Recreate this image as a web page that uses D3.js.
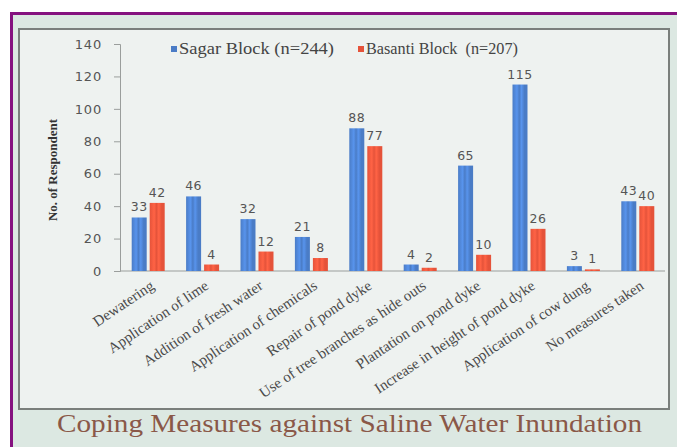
<!DOCTYPE html>
<html>
<head>
<meta charset="utf-8">
<script src="https://cdn.jsdelivr.net/npm/d3@7"></script>
<style>
  html, body { margin: 0; padding: 0; background: #ffffff; }
  svg { display: block; }
</style>
</head>
<body>
<svg id="chart" width="677" height="447"></svg>
<script>
const categories = [
  "Dewatering",
  "Application of lime",
  "Addition of fresh water",
  "Application of chemicals",
  "Repair of pond dyke",
  "Use of tree branches as hide outs",
  "Plantation on pond dyke",
  "Increase in height of pond dyke",
  "Application of cow dung",
  "No measures taken"
];
const seriesNames = ["Sagar Block (n=244)", "Basanti Block  (n=207)"];
const sagar = [33, 46, 32, 21, 88, 4, 65, 115, 3, 43];
const basanti = [42, 4, 12, 8, 77, 2, 10, 26, 1, 40];
const yTicks = [0, 20, 40, 60, 80, 100, 120, 140];
const colors = ["#4a7cc6", "#e5533a"];
const yTitle = "No. of Respondent";
const caption = "Coping Measures against Saline Water Inundation";

const svg = d3.select("#chart");

const defs = svg.append("defs");
function stripeGrad(id, base) {
  const c = d3.color(base);
  const light = c.brighter(0.5).formatHex();
  const g = defs.append("linearGradient").attr("id", id)
    .attr("x1", "0%").attr("x2", "100%").attr("y1", "0%").attr("y2", "0%");
  [[0, base], [0.3, light], [0.45, base], [0.6, light], [0.8, base], [1, base]].forEach(([o, col]) => {
    g.append("stop").attr("offset", o).attr("stop-color", col);
  });
}
stripeGrad("g0", colors[0]);
stripeGrad("g1", colors[1]);

// page background
svg.append("rect").attr("x", 10).attr("y", 12).attr("width", 667).attr("height", 435).attr("fill", "#dce8e2");
// purple frame
svg.append("rect").attr("x", 10).attr("y", 12).attr("width", 667).attr("height", 3).attr("fill", "#85127f");
svg.append("rect").attr("x", 10).attr("y", 12).attr("width", 3).attr("height", 435).attr("fill", "#85127f");
// inner chart box
svg.append("rect").attr("x", 19).attr("y", 29).attr("width", 650).attr("height", 380)
  .attr("fill", "#eef2f0").attr("stroke", "#7a7f7c").attr("stroke-width", 2);

const x0 = d3.scaleBand().domain(categories).range([121, 665]).paddingInner(0).paddingOuter(0);
const y = d3.scaleLinear().domain([0, 140]).range([271, 44]);
const barW = 15, gap = 3;

// y axis
const yAxis = d3.axisLeft(y).tickValues(yTicks).tickSize(6).tickPadding(12);
const yg = svg.append("g").attr("transform", "translate(120,0)").call(yAxis);
yg.select(".domain").attr("stroke", "#9a9e9c").attr("stroke-width", 1);
yg.selectAll(".tick line").attr("stroke", "#9a9e9c");
yg.selectAll(".tick text").attr("fill", "#555").attr("font-family", "DejaVu Sans, sans-serif")
  .attr("font-size", 13).attr("letter-spacing", 0.8);

// x axis baseline
svg.append("line").attr("x1", 120).attr("x2", 665).attr("y1", y(0)).attr("y2", y(0))
  .attr("stroke", "#9a9e9c").attr("stroke-width", 1);

// bars
const seriesVals = [sagar, basanti];
seriesVals.forEach((vals, si) => {
  const g = svg.append("g");
  const off = si === 0 ? -(barW + gap) / 2 : (barW + gap) / 2;
  g.selectAll("rect").data(vals).join("rect")
    .attr("x", (d, i) => x0(categories[i]) + x0.bandwidth() / 2 + off - barW / 2)
    .attr("y", d => y(d))
    .attr("width", barW)
    .attr("height", d => y(0) - y(d))
    .attr("fill", `url(#g${si})`);
  g.selectAll("text").data(vals).join("text")
    .attr("x", (d, i) => x0(categories[i]) + x0.bandwidth() / 2 + off)
    .attr("y", d => y(d) - 6)
    .attr("text-anchor", "middle")
    .attr("font-family", "DejaVu Sans, sans-serif")
    .attr("font-size", 12.5)
    .attr("letter-spacing", 0.5)
    .attr("fill", "#555")
    .text(d => d);
});

// x labels
svg.append("g").selectAll("text").data(categories).join("text")
  .attr("transform", d => `translate(${x0(d) + x0.bandwidth() / 2 + 7},${y(0) + 17}) rotate(-34)`)
  .attr("text-anchor", "end")
  .attr("font-family", "Liberation Serif, serif")
  .attr("font-size", 15)
  .attr("fill", "#4a4a4a")
  .text(d => d);

// y title
svg.append("text")
  .attr("transform", "translate(57,170) rotate(-90)")
  .attr("text-anchor", "middle")
  .attr("font-family", "Liberation Serif, serif")
  .attr("font-weight", "bold")
  .attr("font-size", 13)
  .attr("fill", "#333")
  .text(yTitle);

// legend
const legend = svg.append("g");
const legX = [171, 358];
const legLen = [155, 152];
seriesNames.forEach((n, i) => {
  legend.append("rect").attr("x", legX[i]).attr("y", 46).attr("width", 6).attr("height", 6).attr("fill", colors[i]);
  legend.append("text").attr("x", legX[i] + 8).attr("y", 54)
    .attr("font-family", "Liberation Serif, serif").attr("font-size", 17)
    .attr("xml:space", "preserve")
    .attr("textLength", legLen[i]).attr("lengthAdjust", "spacingAndGlyphs")
    .attr("fill", "#444").text(n);
});

// caption
svg.append("text")
  .attr("x", 57).attr("y", 432)
  .attr("font-family", "Liberation Serif, serif")
  .attr("font-size", 26)
  .attr("textLength", 585)
  .attr("lengthAdjust", "spacingAndGlyphs")
  .attr("fill", "#8a5848")
  .text(caption);
</script>
</body>
</html>
